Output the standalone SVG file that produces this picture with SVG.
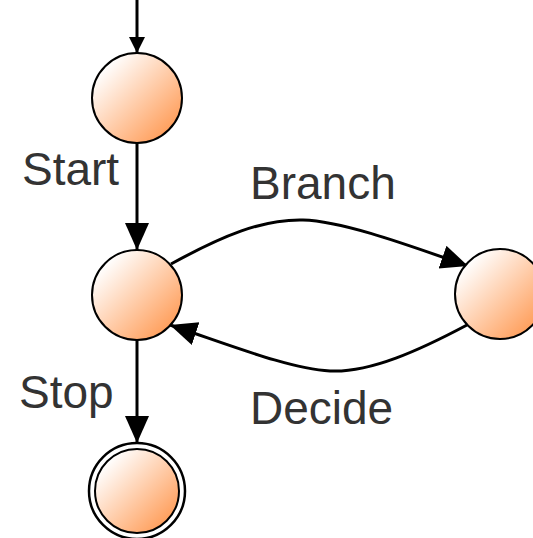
<svg xmlns="http://www.w3.org/2000/svg" width="533" height="538" viewBox="0 0 533 538">
  <style>
    .state { stroke: #000; stroke-width: 2; fill: url(#stateFill); }
    .ring { stroke: #000; stroke-width: 2.5; fill: none; }
    .edge { stroke: #000; stroke-width: 3; fill: none; }
    .label { font-family: "Liberation Sans", Arial, sans-serif; font-size: 46px; fill: #333; }
  </style>
  <defs>
    <linearGradient id="stateFill" x1="0" y1="0" x2="1" y2="1">
      <stop offset="0.15" stop-color="#ffffff"/>
      <stop offset="1" stop-color="#ff8c3c"/>
    </linearGradient>
    <marker id="headSmall" markerUnits="userSpaceOnUse" markerWidth="18" markerHeight="18" refX="16" refY="8" orient="auto">
      <path d="M0,0 L16,8 L0,16 z" fill="#000"/>
    </marker>
    <marker id="head" markerUnits="userSpaceOnUse" markerWidth="30" markerHeight="26" refX="27" refY="12" orient="auto">
      <path d="M0,0 L27,12 L0,24 z" fill="#000"/>
    </marker>
  </defs>

  <!-- transitions -->
  <g id="connectors">
    <path class="edge" d="M137,0 L137,53" marker-end="url(#headSmall)"/>
    <path class="edge" d="M137,143 L137,250" marker-end="url(#head)"/>
    <path class="edge" d="M137,340 L137,443" marker-end="url(#head)"/>
    <path class="edge" d="M171,264 C222,236 262,219 303,220 C342,221 405,244 468,266" marker-end="url(#head)"/>
    <path class="edge" d="M467,325 C420,350 370,373 330,371 C290,369 230,345 170,325" marker-end="url(#head)"/>
  </g>

  <!-- states -->
  <g id="s-initial">
    <circle class="state" cx="137" cy="98" r="45"/>
  </g>
  <g id="s-main">
    <circle class="state" cx="137" cy="295" r="45"/>
  </g>
  <g id="s-branch">
    <circle class="state" cx="500" cy="294" r="45"/>
  </g>
  <g id="s-final">
    <circle class="ring" cx="137" cy="491" r="48"/>
    <circle class="state" cx="137" cy="491" r="42"/>
  </g>

  <!-- transition labels -->
  <text class="label" x="22" y="185">Start</text>
  <text class="label" x="250" y="199">Branch</text>
  <text class="label" x="19" y="408">Stop</text>
  <text class="label" x="250" y="424">Decide</text>
</svg>
